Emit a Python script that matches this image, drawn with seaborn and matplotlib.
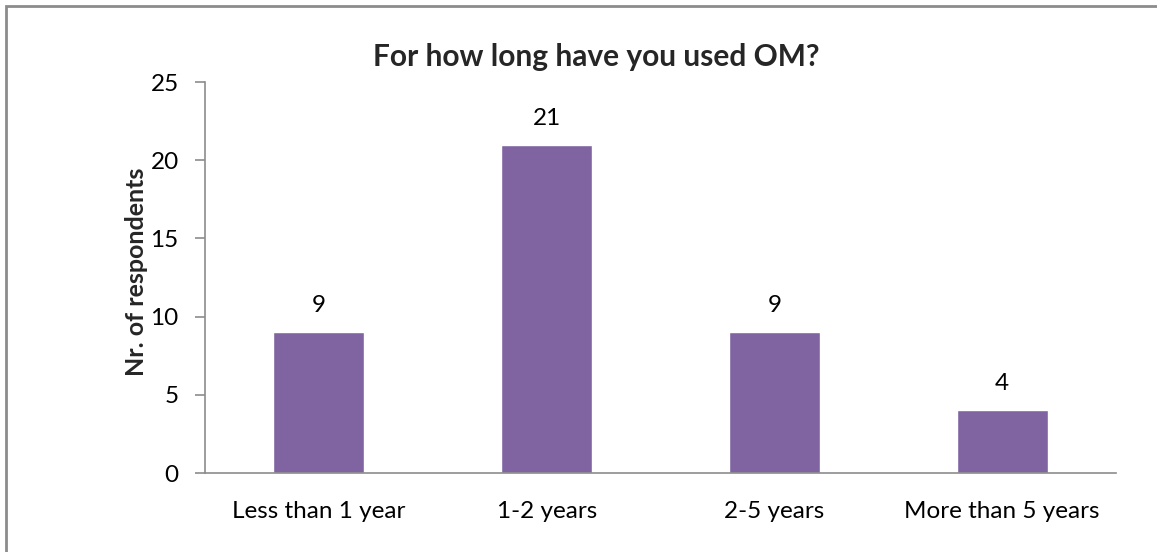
import matplotlib
matplotlib.use("Agg")
import matplotlib.pyplot as plt
import seaborn as sns
import pandas as pd
from matplotlib.patches import Rectangle

# Data
categories = ["Less than 1 year", "1-2 years", "2-5 years", "More than 5 years"]
respondents = [9, 21, 9, 4]
y_ticks = [0, 5, 10, 15, 20, 25]

df = pd.DataFrame({"Duration": categories, "Respondents": respondents})

sns.set_theme(style="white")
plt.rcParams["font.family"] = ["Lato", "DejaVu Sans"]

W, H = 1157, 552
fig = plt.figure(figsize=(W / 100, H / 100), dpi=100)
ax = fig.add_axes([0.1772, 0.1431, 0.7874, 0.7083])

sns.barplot(data=df, x="Duration", y="Respondents", color="#8064A2",
            saturation=1, width=0.4, ax=ax)

for i, v in enumerate(respondents):
    ax.annotate(str(v), (i, v), xytext=(0, 11.5), textcoords="offset points",
                ha="center", va="bottom", fontsize=17.5, color="black")

ax.set_ylim(0, 25)
ax.set_xlim(-0.5, len(categories) - 0.5)
ax.set_yticks(y_ticks)
ax.set_xticks(range(len(categories)))
ax.set_xticklabels(categories)
ax.set_xticks([i - 0.5 for i in range(len(categories) + 1)], minor=True)
ax.tick_params(axis="x", which="major", length=0, pad=20, labelsize=17.5, colors="black")
ax.tick_params(axis="x", which="minor", length=7, width=1.2, color="#8c8c8c", direction="out")
ax.tick_params(axis="y", length=7, width=1.2, color="#8c8c8c", direction="out",
               labelsize=17.5, pad=12, left=True)
ax.tick_params(axis="y", colors="#8c8c8c", labelcolor="black")

ax.set_xlabel("")
ax.set_ylabel("")
fig.text(137 / W, 1 - 272 / H, "Nr. of respondents", rotation=90, ha="center", va="center",
         fontsize=18, fontweight="bold")
fig.text(596 / W, 1 - 57 / H, "For how long have you used OM?", ha="center", va="center",
         fontsize=21.5, fontweight="bold")

for s in ["top", "right"]:
    ax.spines[s].set_visible(False)
for s in ["left", "bottom"]:
    ax.spines[s].set_color("#8c8c8c")
    ax.spines[s].set_linewidth(1.2)

# outer chart border
fig.patches.append(Rectangle((6 / W, -0.05), 1.1, 1.05 - 6 / H,
                             transform=fig.transFigure, fill=False,
                             edgecolor="#8c8c8c", linewidth=2))

fig.savefig("out.png", dpi=100)
